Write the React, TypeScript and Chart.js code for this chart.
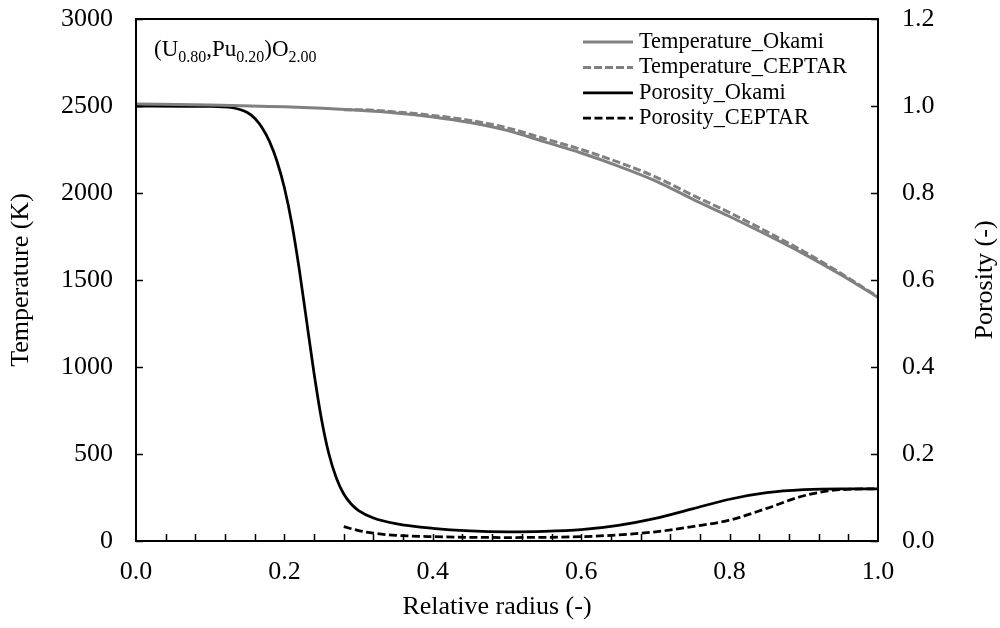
import React, { useEffect, useRef } from "react";
import { Chart, registerables } from "chart.js";

Chart.register(...registerables);

// ---- Data ----
const radiusTempOkami = [0, 0.1, 0.2, 0.3, 0.35, 0.4, 0.45, 0.5, 0.55, 0.6, 0.65, 0.7, 0.75, 0.8, 0.85, 0.9, 0.95, 1.0];
const tempOkami = [2511, 2506, 2495, 2475, 2460, 2437, 2405, 2360, 2295, 2230, 2155, 2070, 1965, 1865, 1760, 1650, 1530, 1400];

const radiusTempCeptar = [0.28, 0.3, 0.35, 0.4, 0.45, 0.5, 0.55, 0.6, 0.65, 0.7, 0.75, 0.8, 0.85, 0.9, 0.95, 1.0];
const tempCeptar = [2479, 2479, 2466, 2446, 2417, 2375, 2313, 2250, 2177, 2093, 1988, 1887, 1778, 1664, 1538, 1403];

const radiusPorOkami = [0, 0.1, 0.13, 0.14, 0.15, 0.16, 0.17, 0.18, 0.19, 0.2, 0.21, 0.22, 0.23, 0.24, 0.25, 0.26, 0.27, 0.28, 0.29, 0.3, 0.32, 0.35, 0.4, 0.45, 0.5, 0.55, 0.6, 0.65, 0.7, 0.75, 0.8, 0.85, 0.9, 0.95, 1.0];
const porOkami = [1.0, 0.999, 0.996, 0.992, 0.985, 0.972, 0.95, 0.918, 0.873, 0.812, 0.73, 0.625, 0.505, 0.385, 0.28, 0.2, 0.145, 0.108, 0.085, 0.07, 0.053, 0.04, 0.029, 0.023, 0.021, 0.022, 0.026, 0.036, 0.052, 0.074, 0.096, 0.111, 0.118, 0.12, 0.12];

const radiusPorCeptar = [0.28, 0.3, 0.32, 0.35, 0.4, 0.5, 0.6, 0.65, 0.7, 0.75, 0.8, 0.85, 0.9, 0.95, 1.0];
const porCeptar = [0.033, 0.024, 0.018, 0.013, 0.01, 0.008, 0.01, 0.014, 0.021, 0.033, 0.048, 0.075, 0.104, 0.118, 0.12];

const seriesLabels = ["Temperature_Okami", "Temperature_CEPTAR", "Porosity_Okami", "Porosity_CEPTAR"];

const xTitle = "Relative radius (-)";
const yTitle = "Temperature (K)";
const y2Title = "Porosity (-)";

// annotation: [text, isSubscript]
const compositionParts: [string, boolean][] = [
  ["(U", false], ["0.80", true], [",Pu", false], ["0.20", true], [")O", false], ["2.00", true],
];

const X_MIN = 0, X_MAX = 1, X_STEP = 0.2, X_MINOR = 0.04;
const Y_MIN = 0, Y_MAX = 3000, Y_STEP = 500;
const Y2_MIN = 0, Y2_MAX = 1.2, Y2_STEP = 0.2;

const FONT = '"Liberation Serif", "Times New Roman", Times, serif';
const GRAY = "#808080";

const toXY = (xs: number[], ys: number[]) => xs.map((x, i) => ({ x, y: ys[i] }));

const framePlugin = {
  id: "frameTicks",
  afterDatasetsDraw(chart: any) {
    const { ctx, chartArea, scales } = chart;
    const { left, right, top, bottom } = chartArea;
    ctx.save();
    ctx.strokeStyle = "#000";
    ctx.lineWidth = 2;
    ctx.strokeRect(left, top, right - left, bottom - top);
    ctx.lineWidth = 1.5;
    const tl = 7;
    ctx.beginPath();
    const n = Math.round((X_MAX - X_MIN) / X_MINOR);
    for (let i = 1; i < n; i++) {
      const px = Math.round(scales.x.getPixelForValue(X_MIN + i * X_MINOR)) + 0.5;
      ctx.moveTo(px, bottom);
      ctx.lineTo(px, bottom - tl);
    }
    scales.y.ticks.forEach((t: any) => {
      const py = Math.round(scales.y.getPixelForValue(t.value)) + 0.5;
      ctx.moveTo(left, py);
      ctx.lineTo(left + tl, py);
    });
    scales.y2.ticks.forEach((t: any) => {
      const py = Math.round(scales.y2.getPixelForValue(t.value)) + 0.5;
      ctx.moveTo(right, py);
      ctx.lineTo(right - tl, py);
    });
    ctx.stroke();
    ctx.restore();
  },
};

const legendPlugin = {
  id: "customLegend",
  afterDraw(chart: any) {
    const { ctx } = chart;
    const x0 = 583, x1 = 633, tx = 639, y0 = 42, dy = 25.4;
    ctx.save();
    chart.data.datasets.forEach((ds: any, i: number) => {
      const y = y0 + i * dy;
      ctx.strokeStyle = ds.borderColor;
      ctx.lineWidth = ds.borderWidth;
      ctx.setLineDash(ds.borderDash || []);
      ctx.beginPath();
      ctx.moveTo(x0, y);
      ctx.lineTo(x1, y);
      ctx.stroke();
      ctx.setLineDash([]);
      ctx.fillStyle = "#000";
      ctx.font = `22.4px ${FONT}`;
      ctx.textBaseline = "middle";
      ctx.textAlign = "left";
      ctx.fillText(ds.label, tx, y);
    });
    ctx.restore();
  },
};

const annotationPlugin = {
  id: "composition",
  afterDraw(chart: any) {
    const { ctx, chartArea } = chart;
    ctx.save();
    ctx.fillStyle = "#000";
    ctx.textBaseline = "alphabetic";
    ctx.textAlign = "left";
    let x = chartArea.left + 18;
    const base = chartArea.top + 37;
    compositionParts.forEach(([t, sub]) => {
      ctx.font = sub ? `16px ${FONT}` : `23px ${FONT}`;
      ctx.fillText(t, x, sub ? base + 6 : base);
      x += ctx.measureText(t).width;
    });
    // x axis title
    ctx.font = `26px ${FONT}`;
    ctx.textAlign = "center";
    ctx.textBaseline = "middle";
    ctx.fillText(xTitle, 497, 607);
    // right axis title
    const cy = (chartArea.top + chartArea.bottom) / 2;
    ctx.translate(985, cy);
    ctx.rotate(-Math.PI / 2);
    ctx.fillText(y2Title, 0, 0);
    ctx.restore();
  },
};

export default function App() {
  const ref = useRef<HTMLCanvasElement | null>(null);
  useEffect(() => {
    if (!ref.current) return;
    Chart.defaults.font.family = FONT;
    Chart.defaults.color = "#000";
    const tickFont = { size: 26, family: FONT };
    const chart = new Chart(ref.current, {
      type: "line",
      data: {
        datasets: [
          {
            label: seriesLabels[0], data: toXY(radiusTempOkami, tempOkami), yAxisID: "y",
            borderColor: GRAY, borderWidth: 3, pointRadius: 0, cubicInterpolationMode: "monotone",
          },
          {
            label: seriesLabels[1], data: toXY(radiusTempCeptar, tempCeptar), yAxisID: "y",
            borderColor: GRAY, borderWidth: 3, borderDash: [8, 3], pointRadius: 0, cubicInterpolationMode: "monotone",
          },
          {
            label: seriesLabels[2], data: toXY(radiusPorOkami, porOkami), yAxisID: "y2",
            borderColor: "#000", borderWidth: 2.75, pointRadius: 0, cubicInterpolationMode: "monotone",
          },
          {
            label: seriesLabels[3], data: toXY(radiusPorCeptar, porCeptar), yAxisID: "y2",
            borderColor: "#000", borderWidth: 2.75, borderDash: [8, 3.5], pointRadius: 0, cubicInterpolationMode: "monotone",
          },
        ] as any,
      },
      options: {
        animation: false,
        responsive: false,
        layout: { padding: { top: 19, left: 0, right: 0, bottom: 0 } },
        plugins: { legend: { display: false }, tooltip: { enabled: false } },
        scales: {
          x: {
            type: "linear", position: "bottom", min: X_MIN, max: X_MAX,
            ticks: {
              stepSize: X_STEP, font: tickFont, color: "#000", padding: 16, maxRotation: 0, autoSkip: false,
              callback: (v: any) => Number(v).toFixed(1),
            },
            grid: { display: false, drawTicks: false },
            border: { display: false },
            title: { display: false },
            afterFit: (s: any) => { s.height = 87; s.paddingLeft = 0; s.paddingRight = 0; },
          },
          y: {
            type: "linear", position: "left", min: Y_MIN, max: Y_MAX,
            ticks: {
              stepSize: Y_STEP, font: tickFont, color: "#000", padding: 23,
              callback: (v: any) => String(Math.round(Number(v))),
            },
            grid: { display: false, drawTicks: false },
            border: { display: false },
            title: { display: true, text: yTitle, font: tickFont, color: "#000", padding: { top: 6, bottom: 0 } },
            afterFit: (s: any) => { s.width = 136; s.paddingTop = 0; s.paddingBottom = 0; },
          },
          y2: {
            type: "linear", position: "right", min: Y2_MIN, max: Y2_MAX,
            ticks: {
              stepSize: Y2_STEP, font: tickFont, color: "#000", padding: 24,
              callback: (v: any) => Number(v).toFixed(1),
            },
            grid: { display: false, drawTicks: false },
            border: { display: false },
            afterFit: (s: any) => { s.width = 122; s.paddingTop = 0; s.paddingBottom = 0; },
          },
        },
      } as any,
      plugins: [framePlugin, legendPlugin, annotationPlugin],
    });
    return () => chart.destroy();
  }, []);
  return (
    <div style={{ position: "absolute", left: 0, top: 0, width: 1000, height: 628, background: "#fff" }}>
      <canvas ref={ref} width={1000} height={628} style={{ display: "block" }} />
    </div>
  );
}
